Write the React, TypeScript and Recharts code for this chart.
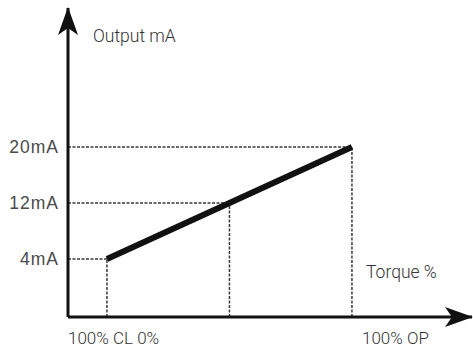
import { Line, LineChart, ReferenceLine, XAxis, YAxis } from "recharts";

// torque (% , CL negative / OP positive) vs output current (mA)
const torque = [-100, 0, 100];
const output = [4, 12, 20];
const yTicks = [4, 12, 20];
const xDomain: [number, number] = [-131.8, 198];
const yDomain: [number, number] = [-4.29, 39.86];

const data = torque.map((t, i) => ({ torque: t, mA: output[i] }));

const INK = "#111";
const GUIDE = "#3a3a3a";
const LABEL_FONT = "Roboto, 'Open Sans', sans-serif";

export default function App() {
  return (
    <div style={{ position: "absolute", left: 0, top: 0, background: "#fff" }}>
      <LineChart width={473} height={349} data={data} margin={{ top: 8, right: 1, left: 8, bottom: 2 }}>
        <defs>
          <marker
            id="arrowHead"
            markerUnits="userSpaceOnUse"
            viewBox="0 0 28 22"
            markerWidth={28}
            markerHeight={22}
            refX={27}
            refY={11}
            orient="auto-start-reverse"
          >
            <path d="M0,1 L28,11 L0,21 L7,11 Z" fill={INK} />
          </marker>
        </defs>
        <XAxis
          type="number"
          dataKey="torque"
          domain={xDomain}
          allowDataOverflow
          tick={false}
          tickLine={false}
          axisLine={{ stroke: INK, strokeWidth: 3, markerEnd: "url(#arrowHead)" }}
        />
        <YAxis
          type="number"
          domain={yDomain}
          allowDataOverflow
          ticks={yTicks}
          interval={0}
          tickLine={false}
          tickSize={0}
          tickMargin={9}
          tickFormatter={(v: number) => `${v}mA`}
          tick={{ fontSize: 17.5, fill: "#4a4a4a", fontFamily: "'Liberation Sans', Arial, sans-serif", letterSpacing: 1 }}
          axisLine={{ stroke: INK, strokeWidth: 3, markerStart: "url(#arrowHead)" }}
        />
        {torque.map((t, i) => (
          <ReferenceLine
            key={`h${i}`}
            segment={[{ x: xDomain[0], y: output[i] }, { x: t, y: output[i] }]}
            stroke={GUIDE}
            strokeWidth={1.5}
            strokeDasharray="3 1.5"
            ifOverflow="visible"
          />
        ))}
        {torque.map((t, i) => (
          <ReferenceLine
            key={`v${i}`}
            segment={[{ x: t, y: yDomain[0] }, { x: t, y: output[i] }]}
            stroke={GUIDE}
            strokeWidth={1.5}
            strokeDasharray="3 1.5"
            ifOverflow="visible"
          />
        ))}
        <Line
          type="linear"
          dataKey="mA"
          stroke={INK}
          strokeWidth={6}
          dot={false}
          activeDot={false}
          isAnimationActive={false}
        />
        <text x={93} y={42} fontSize={17.5} fill="#333" fontFamily={LABEL_FONT} fontWeight={300}>
          Output mA
        </text>
        <text x={366} y={278} fontSize={17.5} fill="#333" fontFamily={LABEL_FONT} fontWeight={300}>
          Torque %
        </text>
        <text x={68} y={344} fontSize={17} fill="#333" fontFamily={LABEL_FONT} fontWeight={300}>
          100% CL 0%
        </text>
        <text x={362} y={344} fontSize={17} fill="#333" fontFamily={LABEL_FONT} fontWeight={300}>
          100% OP
        </text>
      </LineChart>
    </div>
  );
}
